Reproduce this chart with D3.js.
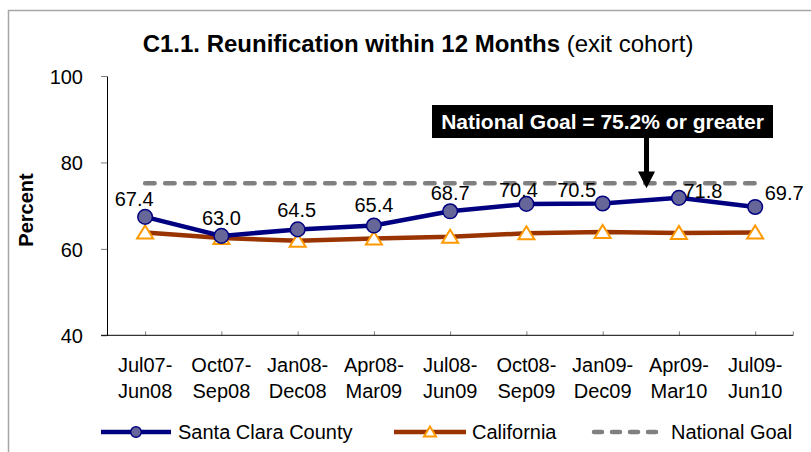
<!DOCTYPE html>
<html>
<head>
<meta charset="utf-8">
<script src="https://cdn.jsdelivr.net/npm/d3@7"></script>
<style>
  body { margin: 0; background: #fff; }
  text { font-family: Arial, "Liberation Sans", sans-serif; }
</style>
</head>
<body>
<svg id="graph" width="811" height="452"></svg>
<script>
/*******************************************************************************************/
// Data

var periods = [['Jul07-','Jun08'], ['Oct07-','Sep08'], ['Jan08-','Dec08'], ['Apr08-','Mar09'], ['Jul08-','Jun09'],
               ['Oct08-','Sep09'], ['Jan09-','Dec09'], ['Apr09-','Mar10'], ['Jul09-','Jun10']];
var santaClara = [67.4, 63.0, 64.5, 65.4, 68.7, 70.4, 70.5, 71.8, 69.7];
var california = [63.8, 62.5, 61.9, 62.4, 62.8, 63.6, 63.9, 63.7, 63.8];
var nationalGoal = 75.2;
var yTicks = [40, 60, 80, 100];
var goalNote = 'National Goal = 75.2% or greater';

// hand placed label nudges (like the original excel chart)
var labelNudge = [[-11,-11], [0,-11], [-1,-12.5], [0,-13.5], [0,-11], [-8,-6.5], [-26,-6], [24,0.5], [29,-7]];

/*******************************************************************************************/
// Chart

var svg = d3.select('#graph');
var idx = d3.range(periods.length);

var xScale = d3.scalePoint().domain(idx).range([107, 793.3]).padding(0.5);
var yScale = d3.scaleLinear().domain([40, 100]).range([335.3, 76]);

// outer frame
svg.append('path').attr('d', 'M8.5,452V10.5H811').style('fill', 'none').style('stroke', '#a6a6a6').style('stroke-width', 1.5);

// title
var title = svg.append('text').attr('x', 418).attr('y', 52).style('text-anchor', 'middle').style('font-size', '24px');
title.append('tspan').style('font-weight', 'bold').text('C1.1. Reunification within 12 Months');
title.append('tspan').text(' (exit cohort)');

// y axis
var yAxis = svg.append('g').attr('transform', 'translate(107,0)')
  .call(d3.axisLeft(yScale).tickValues(yTicks).tickSizeInner(6).tickSizeOuter(0).tickPadding(18));
yAxis.select('.domain').style('stroke', '#000');
yAxis.selectAll('.tick line').style('stroke', '#808080');
yAxis.selectAll('.tick text').style('font-size', '20px').style('fill', '#000').attr('dy', '0.36em');

svg.append('text').attr('transform', 'translate(33,210) rotate(-90)').style('text-anchor', 'middle')
  .style('font-size', '20px').style('font-weight', 'bold').text('Percent');

// x axis
var xAxis = svg.append('g').attr('transform', 'translate(0,335.3)')
  .call(d3.axisBottom(xScale).tickSizeInner(-4).tickSizeOuter(0).tickFormat(''));
xAxis.select('.domain').remove();
xAxis.selectAll('.tick line').style('stroke', '#808080');
svg.append('line').attr('x1', 101).attr('x2', 793.3).attr('y1', 335.3).attr('y2', 335.3).style('stroke', '#000');
svg.append('line').attr('x1', 793.3).attr('x2', 793.3).attr('y1', 331.3).attr('y2', 335.3).style('stroke', '#808080');

var xLabels = svg.append('g').selectAll('text').data(idx).enter().append('text')
  .attr('x', d => xScale(d)).attr('y', 372).style('text-anchor', 'middle').style('font-size', '20px');
xLabels.append('tspan').attr('x', d => xScale(d)).text(d => periods[d][0]);
xLabels.append('tspan').attr('x', d => xScale(d)).attr('dy', 26).text(d => periods[d][1]);

// national goal
svg.append('line').attr('x1', xScale(0)).attr('x2', xScale(idx.length - 1))
  .attr('y1', yScale(nationalGoal)).attr('y2', yScale(nationalGoal))
  .style('stroke', '#808080').style('stroke-width', 4.5).style('stroke-dasharray', '9.5,10.5').style('stroke-linecap', 'round');

var lineGen = d3.line().x((d, i) => xScale(i)).y(d => yScale(d));

// california
svg.append('path').attr('d', lineGen(california)).style('fill', 'none').style('stroke', '#993300').style('stroke-width', 4.5);
var tri = 'M0,-7L8,6L-8,6Z';
svg.append('g').selectAll('path').data(california).enter().append('path')
  .attr('d', tri).attr('transform', (d, i) => 'translate(' + xScale(i) + ',' + yScale(d) + ')')
  .style('fill', '#fff').style('stroke', '#ff9900').style('stroke-width', 2);

// santa clara
svg.append('path').attr('d', lineGen(santaClara)).style('fill', 'none').style('stroke', '#000080').style('stroke-width', 4.5);
svg.append('g').selectAll('circle').data(santaClara).enter().append('circle')
  .attr('cx', (d, i) => xScale(i)).attr('cy', d => yScale(d)).attr('r', 7.3)
  .style('fill', '#666699').style('stroke', '#000080').style('stroke-width', 1.5);

svg.append('g').selectAll('text').data(santaClara).enter().append('text')
  .attr('x', (d, i) => xScale(i) + labelNudge[i][0]).attr('y', (d, i) => yScale(d) + labelNudge[i][1])
  .style('text-anchor', 'middle').style('font-size', '20px').text(d => d.toFixed(1));

// goal note + arrow
var noteX = xScale(6) + 0.575 * xScale.step();
svg.append('rect').attr('x', 432).attr('y', 105).attr('width', 341).attr('height', 33).style('fill', '#000');
svg.append('text').attr('x', 602.5).attr('y', 129).style('text-anchor', 'middle').style('fill', '#fff')
  .style('font-size', '21px').style('font-weight', 'bold').text(goalNote);
svg.append('rect').attr('x', noteX - 2.5).attr('y', 137).attr('width', 5).attr('height', 36).style('fill', '#000');
svg.append('path').attr('d', 'M' + (noteX - 8.5) + ',171.5L' + (noteX + 8.5) + ',171.5L' + noteX + ',' + (yScale(nationalGoal) + 5) + 'Z')
  .style('fill', '#000');

// legend
var lg = svg.append('g').attr('transform', 'translate(0,432)');
lg.append('line').attr('x1', 101).attr('x2', 171).style('stroke', '#000080').style('stroke-width', 4.5);
lg.append('circle').attr('cx', 136).attr('r', 5.3).style('fill', '#666699').style('stroke', '#000080').style('stroke-width', 1.5);
lg.append('text').attr('x', 178).attr('y', 7).style('font-size', '20px').text('Santa Clara County');

lg.append('line').attr('x1', 394).attr('x2', 466).style('stroke', '#993300').style('stroke-width', 4.5);
lg.append('path').attr('d', 'M0,-5.5L6,4.5L-6,4.5Z').attr('transform', 'translate(430,0)')
  .style('fill', '#fff').style('stroke', '#ff9900').style('stroke-width', 2);
lg.append('text').attr('x', 472).attr('y', 7).style('font-size', '20px').text('California');

lg.append('line').attr('x1', 594).attr('x2', 663).style('stroke', '#808080').style('stroke-width', 4.5)
  .style('stroke-dasharray', '8,10').style('stroke-linecap', 'round');
lg.append('text').attr('x', 671).attr('y', 7).style('font-size', '20px').text('National Goal');
</script>
</body>
</html>
